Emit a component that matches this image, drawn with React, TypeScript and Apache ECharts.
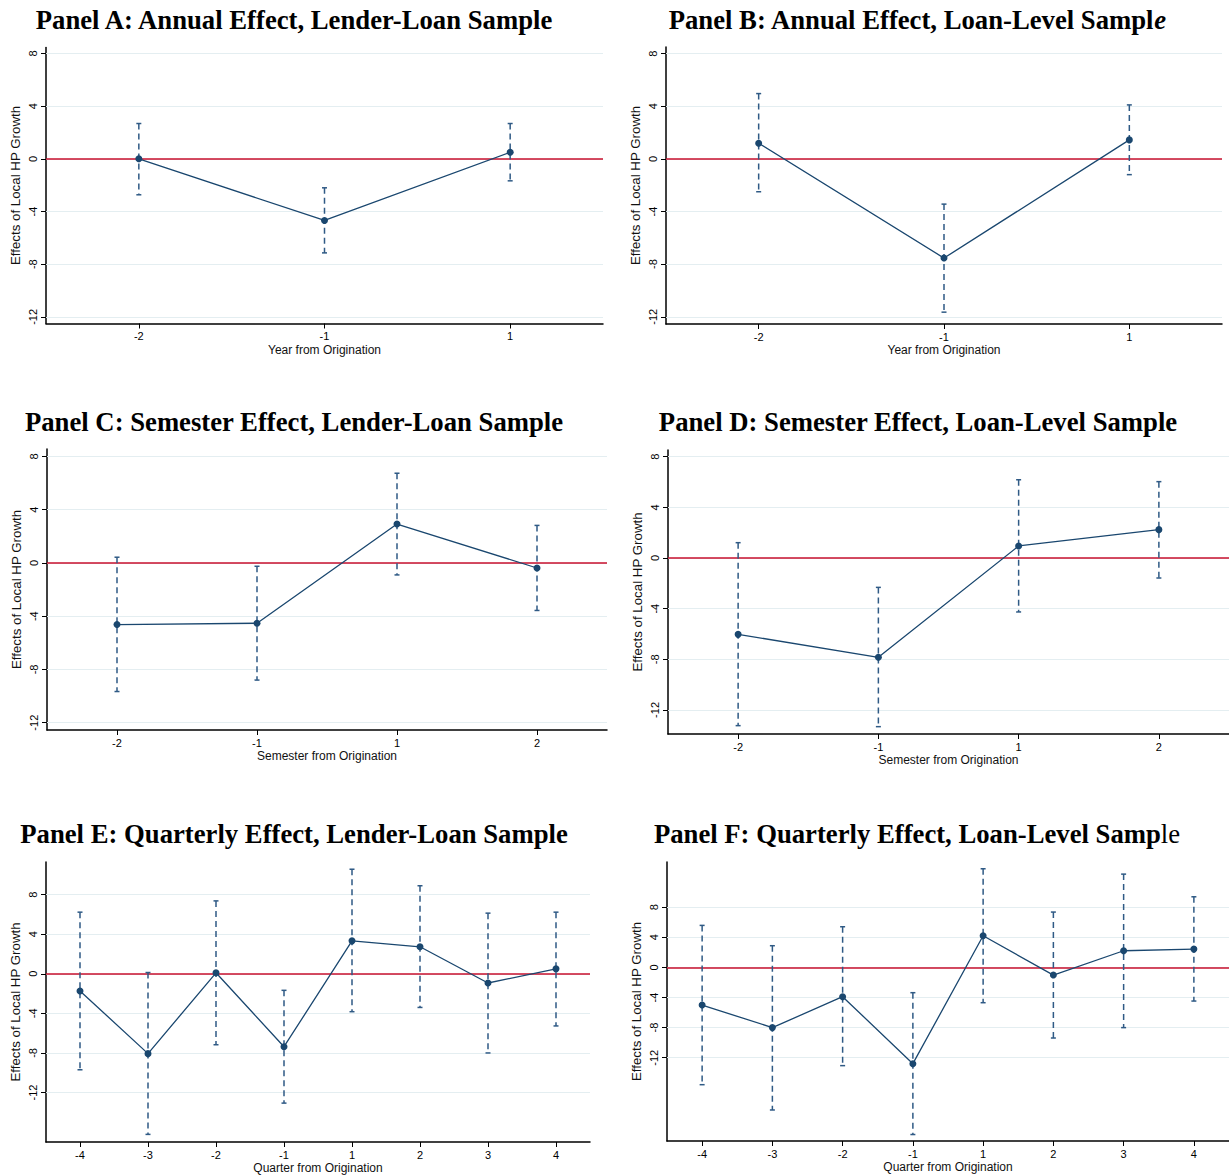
import React, { useEffect, useRef } from "react";
import * as echarts from "echarts";

const annualCats = ["-2", "-1", "1"];
const semesterCats = ["-2", "-1", "1", "2"];
const quarterCats = ["-4", "-3", "-2", "-1", "1", "2", "3", "4"];
const yTicks = [-12, -8, -4, 0, 4, 8];

const aCoef = [0.0, -4.68, 0.5];
const aLo = [-2.73, -7.14, -1.67];
const aHi = [2.68, -2.2, 2.68];

const bCoef = [1.19, -7.54, 1.44];
const bLo = [-2.5, -11.65, -1.2];
const bHi = [4.96, -3.44, 4.1];

const cCoef = [-4.63, -4.53, 2.92, -0.38];
const cLo = [-9.66, -8.8, -0.9, -3.57];
const cHi = [0.43, -0.25, 6.74, 2.82];

const dCoef = [-6.03, -7.84, 0.95, 2.24];
const dLo = [-13.24, -13.32, -4.26, -1.58];
const dHi = [1.21, -2.32, 6.18, 6.03];

const eCoef = [-1.73, -8.07, 0.1, -7.37, 3.33, 2.73, -0.93, 0.5];
const eLo = [-9.7, -16.23, -7.17, -13.07, -3.83, -3.4, -8.0, -5.27];
const eHi = [6.23, 0.13, 7.37, -1.67, 10.57, 8.9, 6.13, 6.23];

const fCoef = [-5.0, -8.0, -3.89, -12.79, 4.2, -1.02, 2.21, 2.43];
const fLo = [-15.58, -18.94, -13.05, -22.2, -4.69, -9.38, -8.0, -4.47];
const fHi = [5.58, 2.88, 5.4, -3.36, 13.1, 7.35, 12.39, 9.38];

const NAVY = "#1a476f";
const BAR = "#2f5a85";
const RED = "#c8102e";
const GRID = "#e4eef1";
const SANS = "Liberation Sans, Arial, sans-serif";
const SERIF = "Liberation Serif, Times New Roman, serif";
const TITLE_SIZE = 26.7;

type Panel = {
  title: string;
  tx: number;
  ty: number;
  cats: string[];
  coef: number[];
  lo: number[];
  hi: number[];
  xName: string;
  grid: { left: number; top: number; width: number; height: number };
  yMin: number;
  yMax: number;
};

const panels: Panel[] = [
  {
    title: "{b|Panel A: Annual Effect, Lender-Loan Sample}",
    tx: 294, ty: 20,
    cats: annualCats, coef: aCoef, lo: aLo, hi: aHi,
    xName: "Year from Origination",
    grid: { left: 46, top: 47.5, width: 557, height: 276 },
    yMin: -12.5, yMax: 8.45,
  },
  {
    title: "{b|Panel B: Annual Effect, Loan-Level Sampl}{i|e}",
    tx: 917, ty: 20,
    cats: annualCats, coef: bCoef, lo: bLo, hi: bHi,
    xName: "Year from Origination",
    grid: { left: 666, top: 47, width: 556, height: 277 },
    yMin: -12.55, yMax: 8.5,
  },
  {
    title: "{b|Panel C: Semester Effect, Lender-Loan Sample}",
    tx: 294, ty: 422,
    cats: semesterCats, coef: cCoef, lo: cLo, hi: cHi,
    xName: "Semester from Origination",
    grid: { left: 47, top: 449, width: 560, height: 281 },
    yMin: -12.55, yMax: 8.56,
  },
  {
    title: "{b|Panel D: Semester Effect, Loan-Level Sample}",
    tx: 918, ty: 422,
    cats: semesterCats, coef: dCoef, lo: dLo, hi: dHi,
    xName: "Semester from Origination",
    grid: { left: 668, top: 450, width: 572, height: 284 },
    yMin: -13.9, yMax: 8.53,
  },
  {
    title: "{b|Panel E: Quarterly Effect, Lender-Loan Sample}",
    tx: 294, ty: 834,
    cats: quarterCats, coef: eCoef, lo: eLo, hi: eHi,
    xName: "Quarter from Origination",
    grid: { left: 46, top: 862, width: 544, height: 282 },
    yMin: -17, yMax: 11.3,
  },
  {
    title: "{b|Panel F: Quarterly Effect, Loan-Level Samp}{n|le}",
    tx: 917, ty: 834,
    cats: quarterCats, coef: fCoef, lo: fLo, hi: fHi,
    xName: "Quarter from Origination",
    grid: { left: 667, top: 862, width: 563, height: 279 },
    yMin: -23.06, yMax: 14.0,
  },
];

function buildOption() {
  const grids: any[] = [];
  const xAxes: any[] = [];
  const yAxes: any[] = [];
  const series: any[] = [];
  const graphics: any[] = [];

  panels.forEach((p, i) => {
    grids.push({ ...p.grid, containLabel: false });
    xAxes.push({
      type: "category",
      gridIndex: i,
      data: p.cats,
      boundaryGap: true,
      name: p.xName,
      nameLocation: "middle",
      nameGap: 20,
      nameTextStyle: { fontFamily: SANS, fontSize: 12, color: "#111" },
      axisLine: { show: true, onZero: false, lineStyle: { color: "#000", width: 1.5 } },
      axisTick: { show: true, alignWithLabel: true, length: 5, lineStyle: { color: "#000", width: 1 } },
      axisLabel: { fontFamily: SANS, fontSize: 11, color: "#000", margin: 7 },
      splitLine: { show: false },
    });
    yAxes.push({
      type: "value",
      gridIndex: i,
      min: p.yMin,
      max: p.yMax,
      name: "Effects of Local HP Growth",
      nameLocation: "middle",
      nameGap: 24,
      nameTextStyle: { fontFamily: SANS, fontSize: 13.3, color: "#111" },
      axisLine: { show: true, onZero: false, lineStyle: { color: "#000", width: 1.5 } },
      axisTick: { show: true, length: 5, customValues: yTicks, lineStyle: { color: "#000", width: 1 } },
      axisLabel: {
        fontFamily: SANS, fontSize: 11, color: "#000", rotate: 90, margin: 8,
        customValues: yTicks,
        formatter: (v: number) => String(v),
      },
      splitLine: { show: false },
    });

    series.push({
      type: "custom",
      xAxisIndex: i,
      yAxisIndex: i,
      z: 2,
      silent: true,
      data: p.cats.map((_, k) => [k, p.lo[k], p.hi[k]]),
      encode: { x: 0, y: [1, 2] },
      renderItem: (params: any, api: any) => {
        const x = api.value(0);
        const top = api.coord([x, api.value(2)]);
        const bot = api.coord([x, api.value(1)]);
        const cw = 2.5;
        return {
          type: "group",
          children: [
            {
              type: "line",
              shape: { x1: top[0], y1: top[1], x2: bot[0], y2: bot[1] },
              style: { stroke: BAR, lineWidth: 1.5, lineDash: [6, 4] },
            },
            {
              type: "line",
              shape: { x1: top[0] - cw, y1: top[1], x2: top[0] + cw, y2: top[1] },
              style: { stroke: BAR, lineWidth: 1.5 },
            },
            {
              type: "line",
              shape: { x1: bot[0] - cw, y1: bot[1], x2: bot[0] + cw, y2: bot[1] },
              style: { stroke: BAR, lineWidth: 1.5 },
            },
          ],
        };
      },
    });

    series.push({
      type: "line",
      xAxisIndex: i,
      yAxisIndex: i,
      z: 3,
      data: p.coef,
      symbol: "circle",
      symbolSize: 7,
      itemStyle: { color: NAVY },
      lineStyle: { color: NAVY, width: 1.3 },
      markLine: {
        silent: true,
        symbol: ["none", "none"],
        label: { show: false },
        z: 1,
        data: [
          ...yTicks.map((v) => ({ yAxis: v, lineStyle: { color: GRID, width: 1.2, type: "solid" } })),
          { yAxis: 0, lineStyle: { color: RED, width: 1.5, type: "solid" } },
        ],
      },
    });

    graphics.push({
      type: "text",
      x: p.tx,
      y: p.ty,
      style: {
        text: p.title,
        textAlign: "center",
        textVerticalAlign: "middle",
        rich: {
          b: { fontFamily: SERIF, fontSize: TITLE_SIZE, fontWeight: "bold", fill: "#000" },
          i: { fontFamily: SERIF, fontSize: TITLE_SIZE, fontWeight: "bold", fontStyle: "italic", fill: "#000" },
          n: { fontFamily: SERIF, fontSize: TITLE_SIZE, fontWeight: "normal", fill: "#000" },
        },
      },
    });
  });

  return {
    animation: false,
    backgroundColor: "#fff",
    grid: grids,
    xAxis: xAxes,
    yAxis: yAxes,
    series,
    graphic: graphics,
  };
}

export default function App() {
  const ref = useRef<HTMLDivElement>(null);
  useEffect(() => {
    if (!ref.current) return;
    const chart = echarts.init(ref.current, undefined, { renderer: "svg" });
    chart.setOption(buildOption() as any);
    return () => chart.dispose();
  }, []);
  return (
    <div
      ref={ref}
      style={{ position: "absolute", left: 0, top: 0, width: 1229, height: 1175, background: "#fff" }}
    />
  );
}
